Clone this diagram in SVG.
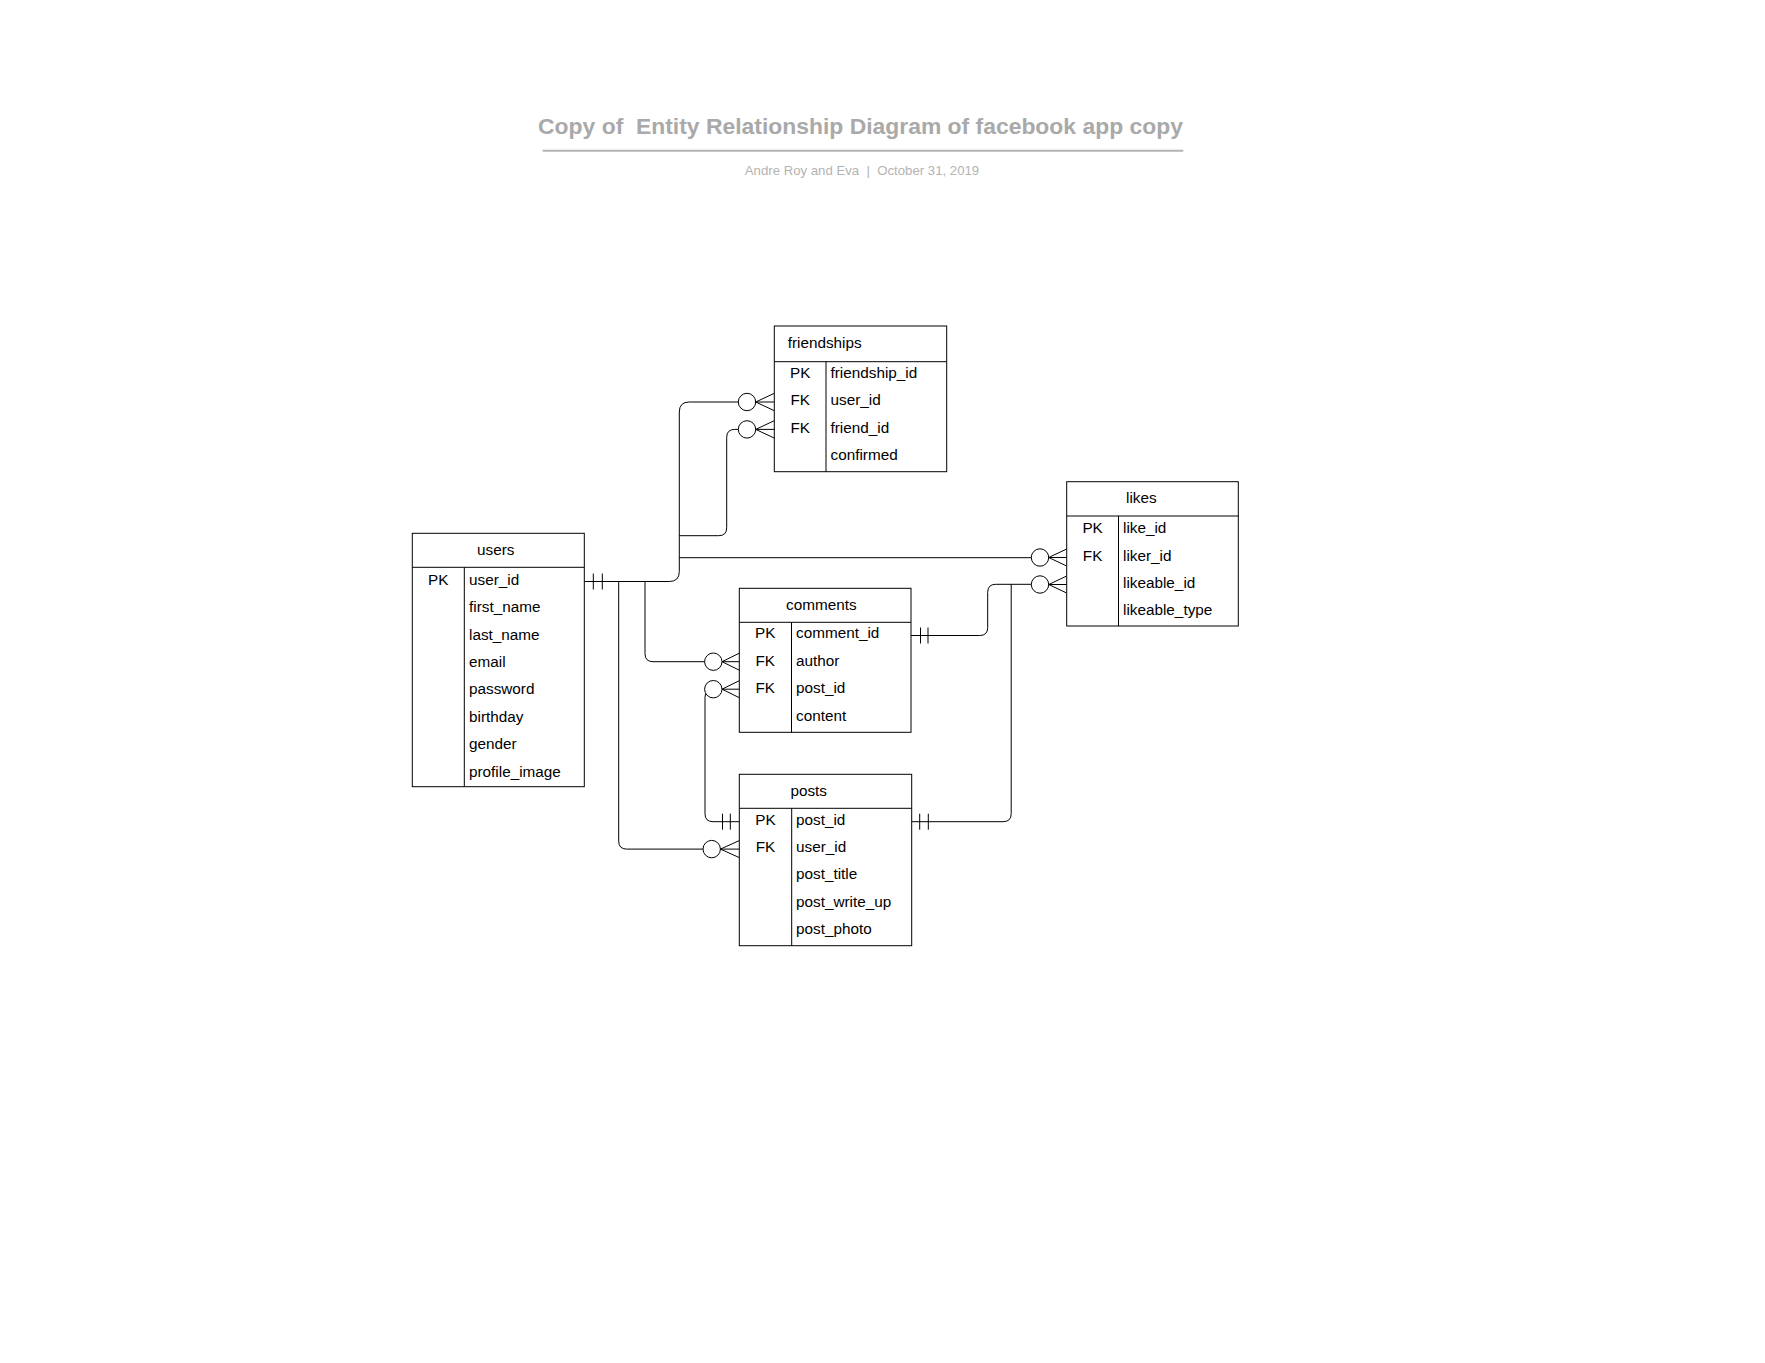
<svg xmlns="http://www.w3.org/2000/svg" width="1765" height="1363" viewBox="0 0 1765 1363">
<style>
  .bg { fill: #ffffff; }
  .tbl { fill: #ffffff; stroke: #000000; stroke-width: 1; }
  .ln { fill: none; stroke: #000000; stroke-width: 1; }
  .t { font-family: "Liberation Sans", Arial, sans-serif; font-size: 15.3px; fill: #000000; }
  .c { text-anchor: middle; }
  .title { font-family: "Liberation Sans", Arial, sans-serif; font-size: 22.9px; font-weight: bold; fill: #a9a9a9; text-anchor: middle; white-space: pre; }
  .sub { font-family: "Liberation Sans", Arial, sans-serif; font-size: 13.2px; fill: #b3b3b3; text-anchor: middle; white-space: pre; }
  .conn { fill: none; stroke: #000000; stroke-width: 1; }
  .circ { fill: #ffffff; stroke: #000000; stroke-width: 1; }
</style>
<rect class="bg" x="0" y="0" width="1765" height="1363"/>

<g id="header">
  <text class="title" x="860.5" y="134.3" xml:space="preserve">Copy of  Entity Relationship Diagram of facebook app copy</text>
  <line x1="542.7" y1="150.7" x2="1183.3" y2="150.7" stroke="#b3b3b3" stroke-width="2"/>
  <text class="sub" x="862" y="175" xml:space="preserve">Andre Roy and Eva  |  October 31, 2019</text>
</g>

<g id="connectors">
  <path class="conn" d="M584.3,581.5 H669.3 Q679.3,581.5 679.3,571.5 V412 Q679.3,402 689.3,402 H747"/>
  <line class="conn" x1="593.3" y1="573.5" x2="593.3" y2="589.5"/>
  <line class="conn" x1="602.3" y1="573.5" x2="602.3" y2="589.5"/>
  <path class="conn" d="M679.3,535.7 H718.7 Q726.7,535.7 726.7,527.7 V437.4 Q726.7,429.4 734.7,429.4 H747"/>
  <path class="conn" d="M679.3,557.7 H1040"/>
  <path class="conn" d="M645,581.5 V653.7 Q645,661.7 653,661.7 H713.3"/>
  <path class="conn" d="M618.7,581.5 V841.1 Q618.7,849.1 626.7,849.1 H711.7"/>
  <path class="conn" d="M713.3,689.2 Q705,689.2 705,697.2 V813.7 Q705,821.7 713,821.7 H739.3"/>
  <line class="conn" x1="722.5" y1="813.7" x2="722.5" y2="829.7"/>
  <line class="conn" x1="730.3" y1="813.7" x2="730.3" y2="829.7"/>
  <path class="conn" d="M911,635.5 H979.7 Q987.7,635.5 987.7,627.5 V592.3 Q987.7,584.3 995.7,584.3 H1040"/>
  <line class="conn" x1="920.5" y1="627.5" x2="920.5" y2="643.5"/>
  <line class="conn" x1="928" y1="627.5" x2="928" y2="643.5"/>
  <path class="conn" d="M911.7,821.7 H1003.2 Q1011.2,821.7 1011.2,813.7 V584.3"/>
  <line class="conn" x1="919.7" y1="813.7" x2="919.7" y2="829.7"/>
  <line class="conn" x1="928.3" y1="813.7" x2="928.3" y2="829.7"/>

  <circle class="circ" cx="747" cy="402" r="8.7"/>
  <path class="conn" d="M755.7,402 L774.3,393.3 M755.7,402 L774.3,402 M755.7,402 L774.3,410.7"/>
  <circle class="circ" cx="747" cy="429.4" r="8.7"/>
  <path class="conn" d="M755.7,429.4 L774.3,420.7 M755.7,429.4 L774.3,429.4 M755.7,429.4 L774.3,438.1"/>
  <circle class="circ" cx="1040" cy="557.5" r="8.7"/>
  <path class="conn" d="M1048.7,557.5 L1066.7,549 M1048.7,557.5 L1066.7,557.5 M1048.7,557.5 L1066.7,566"/>
  <circle class="circ" cx="1040" cy="584.5" r="8.7"/>
  <path class="conn" d="M1048.7,584.5 L1066.7,576 M1048.7,584.5 L1066.7,584.5 M1048.7,584.5 L1066.7,593"/>
  <circle class="circ" cx="713.3" cy="661.7" r="8.7"/>
  <path class="conn" d="M722,661.7 L739.3,653.2 M722,661.7 L739.3,661.7 M722,661.7 L739.3,670.2"/>
  <circle class="circ" cx="713.3" cy="689.2" r="8.7"/>
  <path class="conn" d="M722,689.2 L739.3,680.7 M722,689.2 L739.3,689.2 M722,689.2 L739.3,697.7"/>
  <circle class="circ" cx="711.7" cy="849.1" r="8.7"/>
  <path class="conn" d="M720.4,849.1 L739.3,840.6 M720.4,849.1 L739.3,849.1 M720.4,849.1 L739.3,857.6"/>
</g>

<g id="users">
  <rect class="tbl" x="412.3" y="533.3" width="172" height="253.4"/>
  <line class="ln" x1="412.3" y1="567.3" x2="584.3" y2="567.3"/>
  <line class="ln" x1="464.3" y1="567.3" x2="464.3" y2="786.7"/>
  <text class="t c" x="495.7" y="554.8">users</text>
  <text class="t c" x="438.3" y="584.7">PK</text>
  <text class="t" x="469" y="584.7">user_id</text>
  <text class="t" x="469" y="612.1">first_name</text>
  <text class="t" x="469" y="639.5">last_name</text>
  <text class="t" x="469" y="666.9">email</text>
  <text class="t" x="469" y="694.3">password</text>
  <text class="t" x="469" y="721.7">birthday</text>
  <text class="t" x="469" y="749.1">gender</text>
  <text class="t" x="469" y="776.5">profile_image</text>
</g>

<g id="friendships">
  <rect class="tbl" x="774.3" y="326" width="172.4" height="145.7"/>
  <line class="ln" x1="774.3" y1="361.7" x2="946.7" y2="361.7"/>
  <line class="ln" x1="826" y1="361.7" x2="826" y2="471.7"/>
  <text class="t" x="787.7" y="348.3">friendships</text>
  <text class="t c" x="800.2" y="377.8">PK</text>
  <text class="t" x="830.5" y="377.8">friendship_id</text>
  <text class="t c" x="800.2" y="405.2">FK</text>
  <text class="t" x="830.5" y="405.2">user_id</text>
  <text class="t c" x="800.2" y="432.6">FK</text>
  <text class="t" x="830.5" y="432.6">friend_id</text>
  <text class="t" x="830.5" y="460">confirmed</text>
</g>

<g id="likes">
  <rect class="tbl" x="1066.7" y="481.7" width="171.6" height="144.3"/>
  <line class="ln" x1="1066.7" y1="516" x2="1238.3" y2="516"/>
  <line class="ln" x1="1118.5" y1="516" x2="1118.5" y2="626"/>
  <text class="t c" x="1141.3" y="503.3">likes</text>
  <text class="t c" x="1092.6" y="533.1">PK</text>
  <text class="t" x="1123" y="533.1">like_id</text>
  <text class="t c" x="1092.6" y="560.5">FK</text>
  <text class="t" x="1123" y="560.5">liker_id</text>
  <text class="t" x="1123" y="587.9">likeable_id</text>
  <text class="t" x="1123" y="615.3">likeable_type</text>
</g>

<g id="comments">
  <rect class="tbl" x="739.3" y="588.3" width="171.7" height="144"/>
  <line class="ln" x1="739.3" y1="622.3" x2="911" y2="622.3"/>
  <line class="ln" x1="791.5" y1="622.3" x2="791.5" y2="732.3"/>
  <text class="t c" x="821.3" y="609.8">comments</text>
  <text class="t c" x="765.3" y="638.4">PK</text>
  <text class="t" x="796" y="638.4">comment_id</text>
  <text class="t c" x="765.3" y="665.8">FK</text>
  <text class="t" x="796" y="665.8">author</text>
  <text class="t c" x="765.3" y="693.2">FK</text>
  <text class="t" x="796" y="693.2">post_id</text>
  <text class="t" x="796" y="720.6">content</text>
</g>

<g id="posts">
  <rect class="tbl" x="739.3" y="774.3" width="172.4" height="171.4"/>
  <line class="ln" x1="739.3" y1="808.3" x2="911.7" y2="808.3"/>
  <line class="ln" x1="791.7" y1="808.3" x2="791.7" y2="945.7"/>
  <text class="t c" x="808.7" y="795.8">posts</text>
  <text class="t c" x="765.5" y="824.5">PK</text>
  <text class="t" x="796" y="824.5">post_id</text>
  <text class="t c" x="765.5" y="851.9">FK</text>
  <text class="t" x="796" y="851.9">user_id</text>
  <text class="t" x="796" y="879.3">post_title</text>
  <text class="t" x="796" y="906.7">post_write_up</text>
  <text class="t" x="796" y="934.1">post_photo</text>
</g>
</svg>
